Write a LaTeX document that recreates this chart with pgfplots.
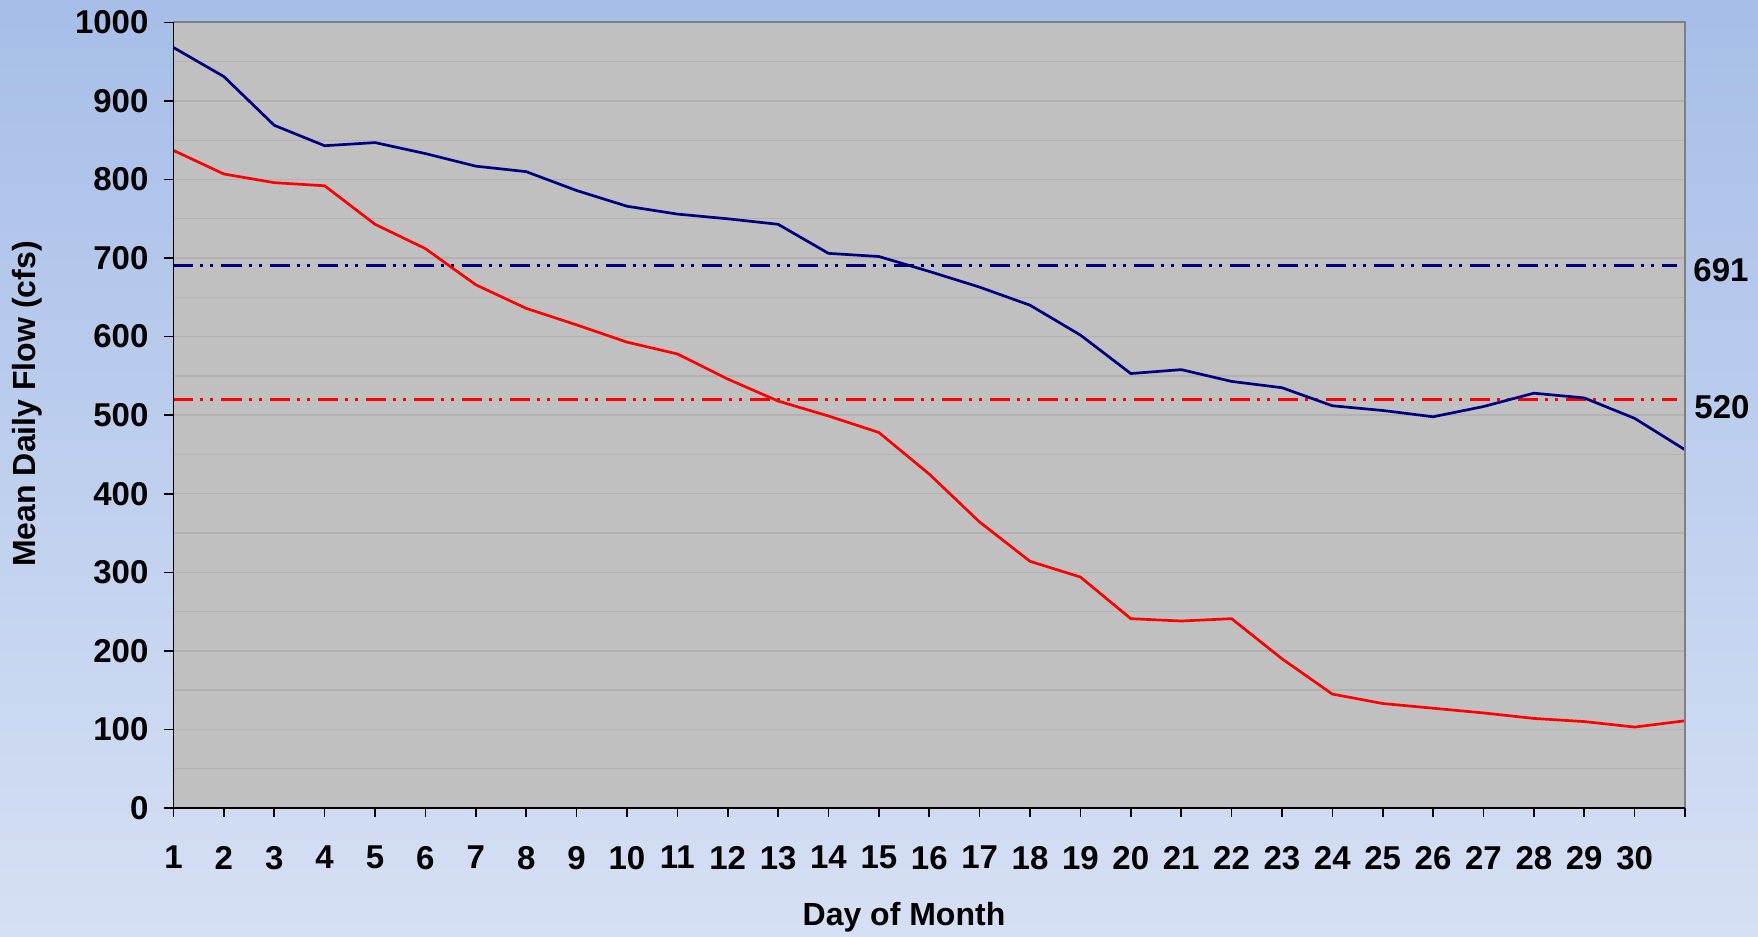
\documentclass[border=0pt]{standalone}
\usepackage{pgfplots}
\pgfplotsset{compat=1.18}
\usepackage{fontspec}
\setmainfont{Liberation Sans}
\usetikzlibrary{shadings}
\definecolor{bgtop}{RGB}{166,190,232}
\definecolor{bgbot}{RGB}{214,224,244}
\definecolor{plotgray}{RGB}{192,192,192}
\definecolor{gridgray}{RGB}{178,178,178}
\definecolor{navy}{RGB}{0,0,128}
\definecolor{framegray}{RGB}{128,128,128}
\newcommand{\lf}{\fontsize{16}{19}\selectfont\bfseries}
\newcommand{\tf}{\fontsize{16.5}{19}\selectfont\bfseries}

\pgfplotstableread{
day blue red
1 968 837
2 931 807
3 869 796
4 843 792
5 847 743
6 833 712
7 817 666
8 810 636
9 786 615
10 766 593
11 756 578
12 750 546
13 743 518
14 706 499
15 702 478
16 683 425
17 663 364
18 640 314
19 602 294
20 553 241
21 558 238
22 543 241
23 535 190
24 512 145
25 506 133
26 498 127
27 511 121
28 528 114
29 522 110
30 496 103
31 456 111
}\flows

\begin{document}
\begin{tikzpicture}
\shade[top color=bgtop, bottom color=bgbot] (0,0) rectangle (879pt,468.5pt);
\begin{axis}[
  at={(86.75pt,64.5pt)}, anchor=south west,
  scale only axis, width=755.75pt, height=392.8pt,
  xmin=1, xmax=31, ymin=0, ymax=1000,
  axis background/.style={fill=plotgray},
  axis line style={draw=none},
  xtick={1,...,31},
  xticklabels={1,2,3,4,5,6,7,8,9,10,11,12,13,14,15,16,17,18,19,20,21,22,23,24,25,26,27,28,29,30,{}},
  ytick={0,100,...,1000},
  minor ytick={50,150,...,950},
  ymajorgrids, yminorgrids,
  major grid style={gridgray, line width=0.7pt},
  minor grid style={gridgray, line width=0.7pt},
  tick align=outside, xtick pos=bottom, ytick pos=left,
  major tick length=4.5pt, minor tick length=0pt,
  tick style={black, line width=0.8pt},
  ticklabel style={font=\tf},
  xticklabel style={yshift=-11pt},
  yticklabel style={xshift=-4.5pt},
  /pgf/number format/assume math mode=true,
  /pgf/number format/1000 sep={},
  clip=false,
]
\addplot[navy, line width=1.4pt, dash pattern=on 10pt off 3.5pt on 1.5pt off 3.5pt on 1.5pt off 4pt] coordinates {(1,691) (30.85,691)};
\addplot[red, line width=1.4pt, dash pattern=on 10pt off 3.5pt on 1.5pt off 3.5pt on 1.5pt off 4pt] coordinates {(1,520) (30.85,520)};
\addplot[navy, line width=1.35pt] table[x=day, y=blue] {\flows};
\addplot[red, line width=1.35pt] table[x=day, y=red] {\flows};
\draw[framegray, line width=1pt] (rel axis cs:0,1) -- (rel axis cs:1,1) -- (rel axis cs:1,0);
\draw[black, line width=0.9pt] (rel axis cs:0,1) -- (rel axis cs:0,0) -- (rel axis cs:1,0);
\node[font=\tf, anchor=west, inner sep=0pt, xshift=4pt, yshift=-2.5pt] at (axis cs:31,691) {691};
\node[font=\tf, anchor=west, inner sep=0pt, xshift=4.5pt, yshift=-3.75pt] at (axis cs:31,520) {520};
\end{axis}
\node[font=\lf] at (452pt,10pt) {Day of Month};
\node[font=\lf, rotate=90] at (13.5pt,266.5pt) {Mean Daily Flow (cfs)};
\pgfresetboundingbox
\path[use as bounding box] (0,0) rectangle (879pt,468.5pt);
\end{tikzpicture}
\end{document}
